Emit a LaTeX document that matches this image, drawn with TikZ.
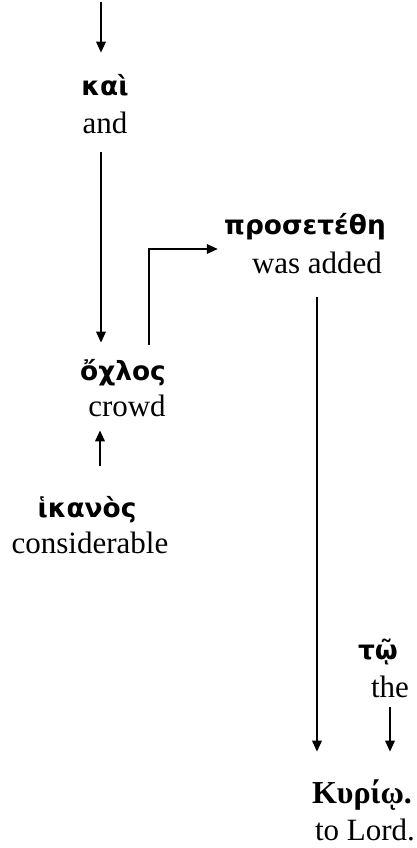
\documentclass[tikz,border=0pt]{standalone}
\usepackage{fontspec}
\setmainfont{Liberation Serif}
\newfontfamily\grkfont{DejaVu Sans}
\newfontfamily\grkserif{Liberation Serif}
\usetikzlibrary{arrows.meta}
\tikzset{
  word/.style={inner sep=0pt, anchor=base, text height=11pt, text depth=4pt},
  gr/.style={word, font=\grkfont\bfseries\fontsize{13.2}{18}\selectfont},
  en/.style={word, font=\fontsize{15.5}{18}\selectfont},
  arr/.style={line width=0.85pt, -{Triangle[length=5.5pt,width=4.8pt]}}
}
\begin{document}
\begin{tikzpicture}[x=0.5pt,y=-0.5pt]
\useasboundingbox (0,0) rectangle (417,848);
\node[gr] (kai) at (105,95) {καὶ};
\node[en] (and) at (105,133) {and};
\node[gr] (ochlos) at (123,380) {ὄχλος};
\node[en] (crowd) at (127,416) {crowd};
\node[gr] (hikanos) at (87,517) {ἱκανὸς};
\node[en] (consid) at (90,553) {considerable};
\node[gr] (prose) at (305,234) {προσετέθη};
\node[en] (added) at (317,273) {was added};
\node[gr] (to) at (378,659) {τῷ};
\node[en] (the) at (390,697) {the};
\node[gr, font=\grkserif\bfseries\fontsize{16}{18}\selectfont] (kyrio) at (362,803) {Κυρίῳ.};
\node[en] (lord) at (365,840) {to Lord.};
\coordinate (start) at (101,2);
\path[draw,arr,shorten >=10pt] (start) -- (start |- kai.north);
\path[draw,arr,shorten <=5.5pt,shorten >=7.5pt] ([xshift=-2pt]and.south) -- ([xshift=-2pt]and.south |- ochlos.north);
\path[draw,arr,shorten <=14.5pt,shorten >=3pt] ([xshift=6.5pt]hikanos.north) -- ([xshift=6.5pt]hikanos.north |- crowd.south);
\path[draw,arr,shorten <=6.5pt,shorten >=3pt] ([xshift=13pt]ochlos.north) |- ([yshift=-11pt]prose.west);
\path[draw,arr,shorten <=8pt,shorten >=14.5pt] (added.south) -- (added.south |- kyrio.north);
\path[draw,arr,shorten <=1pt,shorten >=14.5pt] (the.south) -- (the.south |- kyrio.north);
\end{tikzpicture}
\end{document}
